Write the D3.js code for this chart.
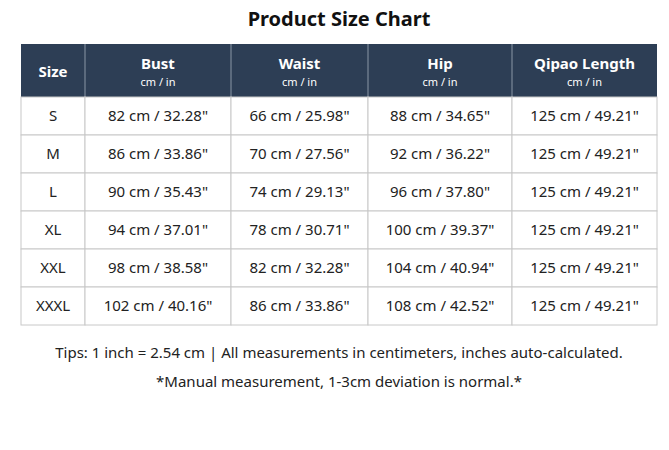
<!DOCTYPE html><html><head><meta charset="utf-8"><script src="https://cdn.jsdelivr.net/npm/d3@7"></script>
<style>body{margin:0;background:#fff}</style></head><body><svg id="c" width="669" height="450"></svg>
<script>
const sizes=["S","M","L","XL","XXL","XXXL"];
const bust=[82,86,90,94,98,102];
const waist=[66,70,74,78,82,86];
const hip=[88,92,96,100,104,108];
const qLength=[125,125,125,125,125,125];
const headers=["Size","Bust","Waist","Hip","Qipao Length"];
const colEdges=[21,85,231,368,512,657];
const svg=d3.select("#c");
const F="'Noto Sans','DejaVu Sans',sans-serif";
svg.append("text").attr("x",339).attr("y",26).attr("text-anchor","middle").attr("font-family",F).attr("font-weight","bold").attr("font-size",20).attr("fill","#111").text("Product Size Chart");
const tableTop=44,hh=53,rh=38;
const y=d3.scaleBand().domain(sizes).range([tableTop+hh,tableTop+hh+rh*sizes.length]);
svg.append("rect").attr("x",21).attr("y",tableTop).attr("width",636).attr("height",hh).attr("fill","#2d3e55");
headers.forEach((h,i)=>{const cx=(colEdges[i]+colEdges[i+1])/2;
 svg.append("text").attr("x",cx).attr("y",i==0?tableTop+33:tableTop+25).attr("text-anchor","middle").attr("font-family",F).attr("font-weight","bold").attr("font-size",15).attr("fill","#fff").text(h);
 if(i>0)svg.append("text").attr("x",cx).attr("y",tableTop+42).attr("text-anchor","middle").attr("font-family",F).attr("font-size",11).attr("fill","#fff").text("cm / in");
 if(i>0)svg.append("line").attr("x1",colEdges[i]).attr("x2",colEdges[i]).attr("y1",tableTop).attr("y2",tableTop+hh).attr("stroke","#8a96a6");
});
const fmt=v=>`${v} cm / ${(v/2.54).toFixed(2)}"`;
sizes.forEach((s,r)=>{const yy=y(s);
 const cells=[s,fmt(bust[r]),fmt(waist[r]),fmt(hip[r]),fmt(qLength[r])];
 cells.forEach((t,i)=>{svg.append("rect").attr("x",colEdges[i]).attr("y",yy).attr("width",colEdges[i+1]-colEdges[i]).attr("height",rh).attr("fill","#fff").attr("stroke","#c8c8c8");
  svg.append("text").attr("x",(colEdges[i]+colEdges[i+1])/2).attr("y",yy+rh/2+5).attr("text-anchor","middle").attr("font-family",F).attr("font-size",15).attr("fill","#222").text(t);});
});
svg.append("text").attr("x",339).attr("y",358).attr("text-anchor","middle").attr("font-family",F).attr("font-size",15).attr("fill","#222").text("Tips: 1 inch = 2.54 cm | All measurements in centimeters, inches auto-calculated.");
svg.append("text").attr("x",339).attr("y",387).attr("text-anchor","middle").attr("font-family",F).attr("font-size",15).attr("fill","#222").text("*Manual measurement, 1-3cm deviation is normal.*");
</script></body></html>
